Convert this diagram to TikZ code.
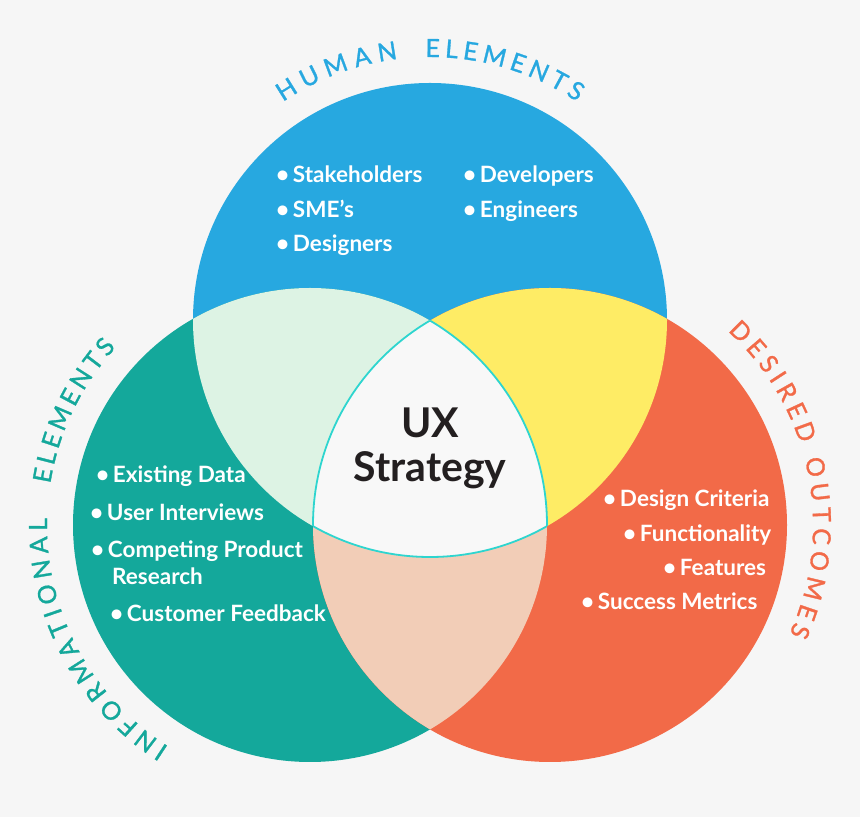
\documentclass[tikz,border=0pt]{standalone}
\usepackage{fontspec}
\setmainfont{Lato}
\newfontfamily\titlefam{Lato}[FakeBold=1.2]
\usetikzlibrary{calc,decorations.text}

\definecolor{bgcol}{HTML}{F6F6F6}
\definecolor{hblue}{HTML}{27A8E0}
\definecolor{iteal}{HTML}{14A89B}
\definecolor{dorange}{HTML}{F26A48}
\definecolor{mint}{HTML}{DDF3E4}
\definecolor{sun}{HTML}{FEEC65}
\definecolor{peach}{HTML}{F2CDB7}
\definecolor{core}{HTML}{F8F8F8}
\definecolor{rim}{HTML}{2ED5CF}
\definecolor{ink}{HTML}{231F20}

\newcommand{\titlefont}{\titlefam\fontsize{25}{30}\selectfont}
\newcommand{\arctext}[5]{%
  \path[decorate, decoration={text along path, text align=fit to path,
      text={|\titlefont\color{#4}|#5}}]
    ($(#1)+(#2:263pt)$) arc[start angle=#2, end angle=#3, radius=263pt];}

\tikzset{
  item/.style={anchor=base west, inner sep=0pt, text=white,
    font=\fontsize{22.5}{26}\selectfont\bfseries},
  core text/.style={anchor=base, inner sep=0pt, text=ink,
    font=\fontsize{41}{44}\selectfont\bfseries},
}

\begin{document}
\begin{tikzpicture}[x=1pt, y=1pt]
      \fill [bgcol] (0, 0) rectangle (860, 817);
      \useasboundingbox (0, 0) rectangle (860, 817);
      \coordinate (H) at (430, 497);
      \coordinate (I) at (310, 292);
      \coordinate (D) at (550, 292);
      \fill [hblue] (H) circle (237pt);
      \fill [iteal] (I) circle (237pt);
      \fill [dorange] (D) circle (237pt);
      \begin{scope}
        \clip (H) circle (237pt);
        \fill [mint] (I) circle (237pt);
        \fill [sun] (D) circle (237pt);
      \end{scope}
      \begin{scope}
        \clip (I) circle (237pt);
        \fill [peach] (D) circle (237pt);
        \clip (H) circle (237pt);
        \fill [core] (D) circle (237pt);
      \end{scope}
      \foreach \a/\b/\c in {H/I/D, I/D/H, D/H/I}{
        \begin{scope}
          \clip (\a) circle (237pt);
          \clip (\b) circle (237pt);
          \draw [rim, line width=1.8pt] (\c) circle (237pt);
        \end{scope}
      }
      \arctext{H}{124}{97}{hblue}{HUMAN}
      \arctext{H}{91}{56}{hblue}{ELEMENTS}
      \arctext{I}{237.5}{178.5}{iteal}{INFORMATIONAL}
      \arctext{I}{171}{137.5}{iteal}{ELEMENTS}
      \arctext{D}{47.5}{18}{dorange}{DESIRED}
      \arctext{D}{14.5}{-24.5}{dorange}{OUTCOMES}
      \foreach \x/\y/\t [count=\i] in {276/634/Stakeholders, 276/599/SME’s, 276/565/Designers,
          463/634/Developers, 463/599/Engineers}{
        \node [item] (hum\i) at (\x, \y) {•\,\t};
      }
      \foreach \x/\y/\t [count=\i] in {96/334/Existing Data, 90/296/User Interviews,
          91/259/Competing Product, 110/195/Customer Feedback}{
        \node [item] (inf\i) at (\x, \y) {•\,\t};
      }
      \node [item] (inf5) at (112, 232) {Research};
      \foreach \x/\y/\t [count=\i] in {603/310/Design Criteria, 623/275/Functionality,
          663/241/Features, 581/207/Success Metrics}{
        \node [item] (des\i) at (\x, \y) {•\,\t};
      }
      \node [core text] (ux) at (430, 379) {UX};
      \node [core text] (strategy) at (430, 335) {Strategy};
    \end{tikzpicture}
\end{document}
